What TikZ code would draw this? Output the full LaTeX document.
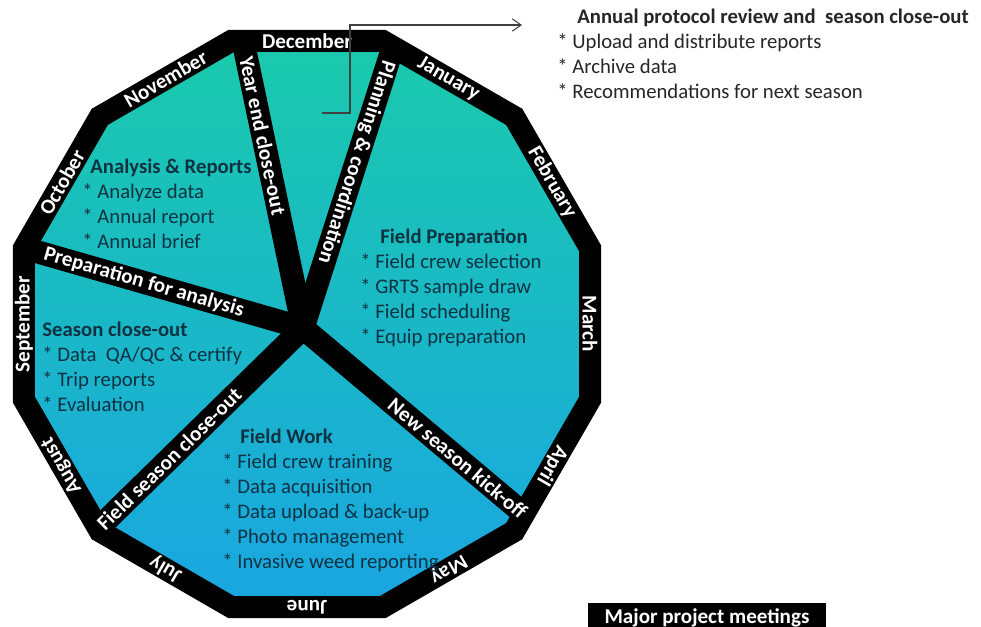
\documentclass[tikz,border=0pt]{standalone}
\usepackage{fontspec}
\setmainfont{Carlito}
\usepackage{xcolor}
\usepackage{tikz}
\usetikzlibrary{arrows.meta}

\definecolor{wheeltop}{RGB}{26,202,172}
\definecolor{wheelmid}{RGB}{34,204,218}
\definecolor{wheelbot}{RGB}{26,166,226}
\definecolor{inktext}{RGB}{14,50,66}

\begin{document}
\begin{tikzpicture}[
    month/.style={text=white, font=\fontsize{12}{14}\selectfont\bfseries, inner sep=0pt},
    spoke/.style={line width=0.46cm, black},
    spokelabel/.style={text=white, font=\fontsize{12}{14}\selectfont\bfseries, sloped, allow upside down, inner sep=0pt},
    block/.style={align=left, anchor=north west, inner sep=0pt, text=inktext, font=\fontsize{11.8}{14.2}\selectfont}
  ]
  \useasboundingbox (-6.14,-6.04) rectangle (13.48,6.48);

  % the year wheel and its rim
  \shade[top color=wheeltop, middle color=wheelmid, bottom color=wheelbot] (15:5.86) \foreach \a in {45,75,...,345} {-- (\a:5.86)} -- cycle;
  \draw[line width=0.44cm, line join=miter] (15:5.86) \foreach \a in {45,75,...,345} {-- (\a:5.86)} -- cycle;

  % spokes between the phases
  \coordinate (hub) at (-0.08,-0.08);
  \coordinate (yend) at (-1.28,5.66);
  \coordinate (plan) at (1.72,5.54);
  \coordinate (prep) at (-5.66,1.52);
  \coordinate (fsea) at (-4.20,-4.11);
  \coordinate (nsea) at (4.34,-3.80);
  \draw[spoke] (fsea) -- (hub) -- (nsea);
  \draw[spoke] (yend) -- (hub);
  \draw[spoke] (plan) -- (hub);
  \draw[spoke] (prep) -- (hub);
  \path (fsea) -- node[spokelabel, pos=0.35] (fsealbl) {Field season close-out} (hub) -- node[spokelabel, pos=0.70] (nsealbl) {New season kick-off} (nsea);
  \path (yend) -- node[spokelabel, pos=0.33] (yendlbl) {Year end close-out} (hub);
  \path (plan) -- node[spokelabel, pos=0.41] (planlbl) {Planning \& coordination} (hub);
  \path (prep) -- node[spokelabel, pos=0.43] (preplbl) {Preparation for analysis} (hub);

  % months round the rim
  \foreach \m [count=\i] in {January,February,March,April,May,June,July,August,September,October,November,December}
    \node[month, rotate=-30*\i] (mon\i) at ({90-30*\i}:5.66) {\m};

  % phases
  \node[block] (analysis) at (-4.50,3.30) {\hspace*{0.16cm}\textbf{Analysis \& Reports}\\{*} Analyze data\\{*} Annual report\\{*} Annual brief};
  \node[block] (fieldprep) at (1.06,1.90) {\hspace*{0.4cm}\textbf{Field Preparation}\\{*} Field crew selection\\{*} GRTS sample draw\\{*} Field scheduling\\{*} Equip preparation};
  \node[block] (seasonclose) at (-5.30,0.04) {\textbf{Season close-out}\\{*} Data\ \ QA/QC \& certify\\{*} Trip reports\\{*} Evaluation};
  \node[block] (fieldwork) at (-1.70,-2.10) {\hspace*{0.36cm}\textbf{Field Work}\\{*} Field crew training\\{*} Data acquisition\\{*} Data upload \& back-up\\{*} Photo management\\{*} Invasive weed reporting};

  \node[block, text=black!85] (review) at (5.00,6.30) {\hspace*{0.4cm}\textbf{Annual protocol review and\ \ season close-out}\\{*} Upload and distribute reports\\{*} Archive data\\{*} Recommendations for next season};

  \coordinate (decpt) at (0.30,4.22);
  \coordinate (revpt) at (4.30,5.98);
  \draw[-{Straight Barb[length=5pt,width=7pt]}, black!75, line width=0.6pt] (decpt) -- ++(0.56,0) |- (revpt);

  \node[fill=black, text=white, font=\fontsize{12}{14}\selectfont\bfseries, minimum width=4.76cm, inner ysep=0.1cm, anchor=north] (meetings) at (8.00,-5.58) {Major project meetings};
\end{tikzpicture}
\end{document}
